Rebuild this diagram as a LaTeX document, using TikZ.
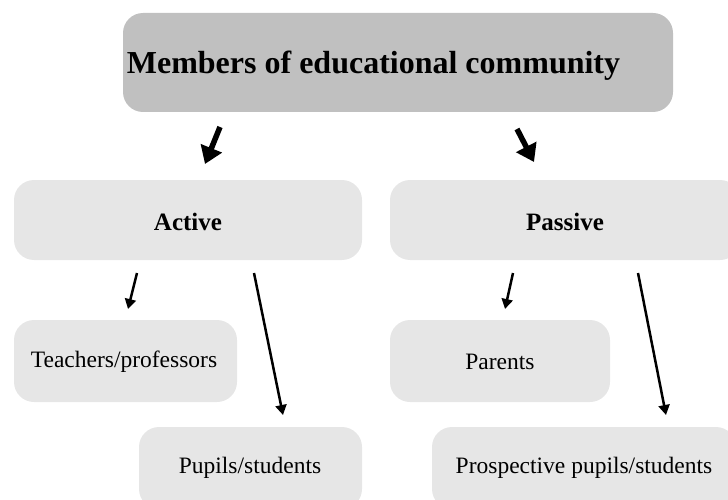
\documentclass[tikz,border=0pt]{standalone}
\usepackage{fontspec}
\setmainfont{Liberation Serif}
\usetikzlibrary{arrows.meta}
\definecolor{topgray}{RGB}{192,192,192}
\definecolor{boxgray}{RGB}{230,230,230}
\tikzset{
  boxbase/.style={rounded corners=20pt, inner sep=0pt, draw=none},
  topbox/.style={boxbase, fill=topgray},
  lightbox/.style={boxbase, fill=boxgray},
  titletext/.style={font=\fontsize{32}{36}\selectfont\bfseries, inner sep=0pt},
  headtext/.style={font=\fontsize{25}{30}\selectfont\bfseries, inner sep=0pt},
  leaftext/.style={font=\fontsize{23.5}{28}\selectfont, inner sep=0pt},
  bigarrow/.style={line width=5.5pt, -{Triangle[width=22pt,length=17pt]}},
  smallarrow/.style={line width=2.5pt, -{Triangle[width=11pt,length=10pt]}}
}
\begin{document}
\begin{tikzpicture}[x=1pt,y=-1pt]
\useasboundingbox (0,0) rectangle (728,500);
\clip (0,0) rectangle (728,500);
% boxes
\node[topbox, minimum width=550pt, minimum height=99pt] (top) at (398,62.5) {};
\node[lightbox, minimum width=348pt, minimum height=80pt] (active) at (188,220) {};
\node[lightbox, minimum width=350pt, minimum height=80pt] (passive) at (565,220) {};
\node[lightbox, minimum width=223pt, minimum height=82pt] (teach) at (125.5,361) {};
\node[lightbox, minimum width=223pt, minimum height=82pt] (pupils) at (250.5,468) {};
\node[lightbox, minimum width=220pt, minimum height=82pt] (parents) at (500,361) {};
\node[lightbox, minimum width=304pt, minimum height=82pt] (prosp) at (584,468) {};
% texts
\node[titletext] (toptext) at (373.5,66) {Members of educational community};
\node[headtext] (activetext) at (188,222) {Active};
\node[headtext] (passivetext) at (565,222) {Passive};
\node[leaftext] (teachtext) at (124,362) {Teachers/professors};
\node[leaftext] (pupilstext) at (250,468) {Pupils/students};
\node[leaftext] (parentstext) at (500,362) {Parents};
\node[leaftext] (prosptext) at (584,468) {Prospective pupils/students};
% arrow end points
\coordinate (a1s) at (220,127);
\coordinate (a1e) at (205,164);
\coordinate (a2s) at (517,129);
\coordinate (a2e) at (534,162);
\coordinate (b1s) at (137,273);
\coordinate (b1e) at (128,309);
\coordinate (b2s) at (254,273);
\coordinate (b2e) at (283,415);
\coordinate (c1s) at (513,273);
\coordinate (c1e) at (505,309);
\coordinate (c2s) at (638,273);
\coordinate (c2e) at (666,415);
% arrows
\draw[bigarrow] (a1s) -- (a1e);
\draw[bigarrow] (a2s) -- (a2e);
\draw[smallarrow] (b1s) -- (b1e);
\draw[smallarrow] (b2s) -- (b2e);
\draw[smallarrow] (c1s) -- (c1e);
\draw[smallarrow] (c2s) -- (c2e);
\end{tikzpicture}
\end{document}
